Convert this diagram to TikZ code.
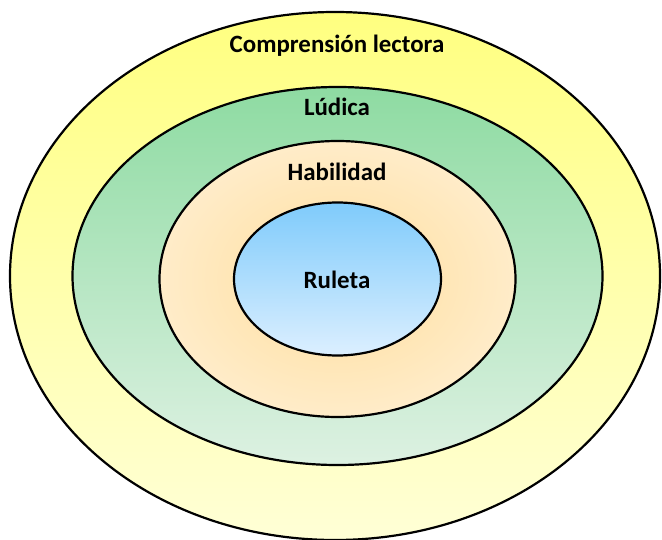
\documentclass[tikz,border=0pt]{standalone}
\usepackage{fontspec}
\setmainfont{Carlito}
\usepackage{tikz}
\usetikzlibrary{shapes.geometric}
\usepackage{xcolor}

\definecolor{yelTop}{HTML}{FFFF80}
\definecolor{yelBot}{HTML}{FFFFD6}
\definecolor{grnTop}{HTML}{8EDBA2}
\definecolor{grnBot}{HTML}{DDF1E2}
\definecolor{orgIn}{HTML}{FFDE9C}
\definecolor{orgOut}{HTML}{FFECC9}
\definecolor{bluTop}{HTML}{7FCBFB}
\definecolor{bluBot}{HTML}{DCEFFF}

\tikzset{
  ring/.style={draw, ellipse, line width=2.2bp, inner sep=0pt},
  tag/.style={font=\bfseries\fontsize{25}{30}\selectfont, text=black}
}

\begin{document}
\begin{tikzpicture}[x=1bp, y=-1bp]
\useasboundingbox (0,0) rectangle (662,540);
\node[ring, minimum width=650bp, minimum height=528bp, top color=yelTop, bottom color=yelBot] (outer) at (335,276) {};
\node[ring, minimum width=530bp, minimum height=378bp, top color=grnTop, bottom color=grnBot] (ludring) at (337.5,276) {};
\node[ring, minimum width=356bp, minimum height=276bp, shading=radial, inner color=orgIn, outer color=orgOut] (habring) at (337.5,279) {};
\node[ring, minimum width=207bp, minimum height=153bp, top color=bluTop, bottom color=bluBot] (rulring) at (337.5,279) {};
\node[tag] (comp) at (337,46) {Comprensión lectora};
\node[tag] (lud) at (337,107) {Lúdica};
\node[tag] (hab) at (337,172) {Habilidad};
\node[tag] (rul) at (337,280) {Ruleta};
\end{tikzpicture}
\end{document}
